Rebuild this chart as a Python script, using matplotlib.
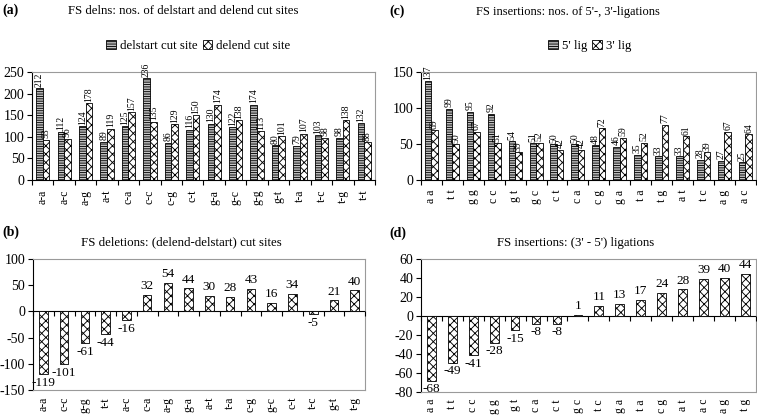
import matplotlib
matplotlib.use("Agg")
import matplotlib.pyplot as plt
import numpy as np

plt.rcParams["font.family"] = ["Liberation Serif", "DejaVu Serif"]
plt.rcParams["axes.unicode_minus"] = False
plt.rcParams["hatch.linewidth"] = 0.65

# (a) deletion cut sites
DEL_CATS = ["a-a", "a-c", "a-g", "a-t", "c-a", "c-c", "c-g", "c-t",
            "g-a", "g-c", "g-g", "g-t", "t-a", "t-c", "t-g", "t-t"]
DELSTART = [212, 112, 124, 89, 125, 236, 86, 116, 130, 122, 174, 80, 79, 103, 98, 132]
DELEND   = [93, 96, 178, 119, 157, 135, 129, 150, 174, 138, 113, 101, 107, 98, 138, 88]

# (b) delend - delstart
DIFF_DEL_CATS = ["a-a", "c-c", "g-g", "t-t", "a-c", "c-a", "a-g", "g-a",
                 "a-t", "t-a", "c-g", "g-c", "c-t", "t-c", "g-t", "t-g"]
DIFF_DEL = [-119, -101, -61, -44, -16, 32, 54, 44, 30, 28, 43, 16, 34, -5, 21, 40]

# (c) insertion ligations
INS_CATS = ["a a", "t t", "g g", "c c", "g t", "g c", "c t", "c a",
            "c g", "g a", "t a", "t g", "a t", "t c", "a g", "a c"]
LIG5 = [137, 99, 95, 92, 54, 51, 50, 50, 48, 46, 35, 33, 33, 28, 27, 25]
LIG3 = [69, 50, 67, 51, 39, 52, 42, 42, 72, 59, 52, 77, 61, 39, 67, 64]

# (d) 3' - 5'
DIFF_INS_CATS = ["a a", "t t", "c c", "g g", "g t", "c a", "c t", "g c",
                 "t c", "g a", "t a", "c g", "a t", "a c", "a g", "t g"]
DIFF_INS = [-68, -49, -41, -28, -15, -8, -8, 1, 11, 13, 17, 24, 28, 39, 40, 44]

FRAME_GREY = "#9a9a9a"
BAR_GREY = "#c4c4c4"


def style_axes(ax, cats, ylim, yticks, label_pad, zero_on_bottom):
    n = len(cats)
    ax.set_xlim(-0.5, n - 0.5)
    ax.set_ylim(*ylim)
    ax.set_yticks(yticks)
    ax.set_xticks(np.arange(n))
    ax.set_xticklabels(cats, rotation=90, fontsize=8.5)
    ax.tick_params(axis="x", length=0, pad=label_pad)
    ax.tick_params(axis="y", direction="out", length=3.5, width=0.8, labelsize=10, pad=2)
    for side in ("top", "right"):
        ax.spines[side].set_color(FRAME_GREY)
        ax.spines[side].set_linewidth(0.8)
    ax.spines["left"].set_linewidth(0.8)
    ax.spines["bottom"].set_linewidth(0.8)
    if not zero_on_bottom:
        ax.spines["bottom"].set_color(FRAME_GREY)
        ax.axhline(0, color="black", linewidth=0.8, zorder=1)
    # category separator ticks on the zero line
    bounds = np.arange(n + 1) - 0.5
    ax.plot(bounds, np.zeros_like(bounds), linestyle="none", marker=3,
            markersize=3.5, markeredgewidth=0.8, color="black", clip_on=False, zorder=4)


def grouped(ax, cats, s1, s2, lab1, lab2):
    x = np.arange(len(cats))
    w = 0.31
    b1 = ax.bar(x - w / 2, s1, w, facecolor=BAR_GREY, edgecolor="black",
                hatch="-------", linewidth=0.6, label=lab1, zorder=2)
    b2 = ax.bar(x + w / 2, s2, w, facecolor="white", edgecolor="black",
                hatch="xxxx", linewidth=0.6, label=lab2, zorder=2)
    for xs, vals in ((x - w / 2, s1), (x + w / 2, s2)):
        for xi, v in zip(xs, vals):
            ax.annotate(str(v), (xi, v), xytext=(0, 1), textcoords="offset points",
                        rotation=90, ha="center", va="bottom", fontsize=7, zorder=5)
    return b1, b2


def single(ax, cats, vals):
    x = np.arange(len(cats))
    ax.bar(x, vals, 0.42, facecolor="white", edgecolor="black",
           hatch="xxxx", linewidth=0.6, zorder=2)
    for xi, v in zip(x, vals):
        off = 2 if v >= 0 else -2
        ax.annotate(str(v), (xi, v), xytext=(0, off), textcoords="offset points",
                    ha="center", va="bottom" if v >= 0 else "top", fontsize=9.5,
                    zorder=5, annotation_clip=False)


def legend(fig, handles, cx):
    fig.legend(handles, [h.get_label() for h in handles], loc="center",
               bbox_to_anchor=(cx, 0.89), ncol=2, frameon=False, fontsize=9.3,
               handlelength=0.75, handleheight=0.75, handletextpad=0.3,
               columnspacing=0.4, borderpad=0)


fig = plt.figure(figsize=(7.57, 4.18), dpi=100)

ax_a = fig.add_axes([0.0423, 0.5694, 0.453, 0.2584])
ax_c = fig.add_axes([0.556, 0.5694, 0.4425, 0.2584])
ax_b = fig.add_axes([0.0436, 0.067, 0.4386, 0.3134])
ax_d = fig.add_axes([0.556, 0.0622, 0.4425, 0.318])

# (a)
ha = grouped(ax_a, DEL_CATS, DELSTART, DELEND, "delstart cut site", "delend cut site")
style_axes(ax_a, DEL_CATS, (0, 250), range(0, 251, 50), 7, True)
legend(fig, ha, 0.262)

# (c)
hc = grouped(ax_c, INS_CATS, LIG5, LIG3, "5' lig", "3' lig")
style_axes(ax_c, INS_CATS, (0, 150), range(0, 151, 50), 7, True)
legend(fig, hc, 0.779)

# (b)
single(ax_b, DIFF_DEL_CATS, DIFF_DEL)
style_axes(ax_b, DIFF_DEL_CATS, (-150, 100), range(-150, 101, 50), 5, False)

# (d)
single(ax_d, DIFF_INS_CATS, DIFF_INS)
style_axes(ax_d, DIFF_INS_CATS, (-80, 60), range(-80, 61, 20), 5, False)

# titles and panel letters
fig.text(0.242, 0.974, "FS delns: nos. of delstart and delend cut sites",
         ha="center", va="center", fontsize=9.2)
fig.text(0.750, 0.971, "FS insertions: nos. of 5'-, 3'-ligations",
         ha="center", va="center", fontsize=8.9)
fig.text(0.240, 0.421, "FS deletions: (delend-delstart) cut sites",
         ha="center", va="center", fontsize=9.3)
fig.text(0.760, 0.419, "FS insertions: (3' - 5') ligations",
         ha="center", va="center", fontsize=9.2)

for x, y, s in ((0.003, 0.976, "(a)"), (0.515, 0.974, "(c)"),
                (0.003, 0.445, "(b)"), (0.515, 0.443, "(d)")):
    fig.text(x, y, s, ha="left", va="center", fontsize=10, fontweight="bold")

fig.savefig("out.png", dpi=100)
plt.close(fig)
